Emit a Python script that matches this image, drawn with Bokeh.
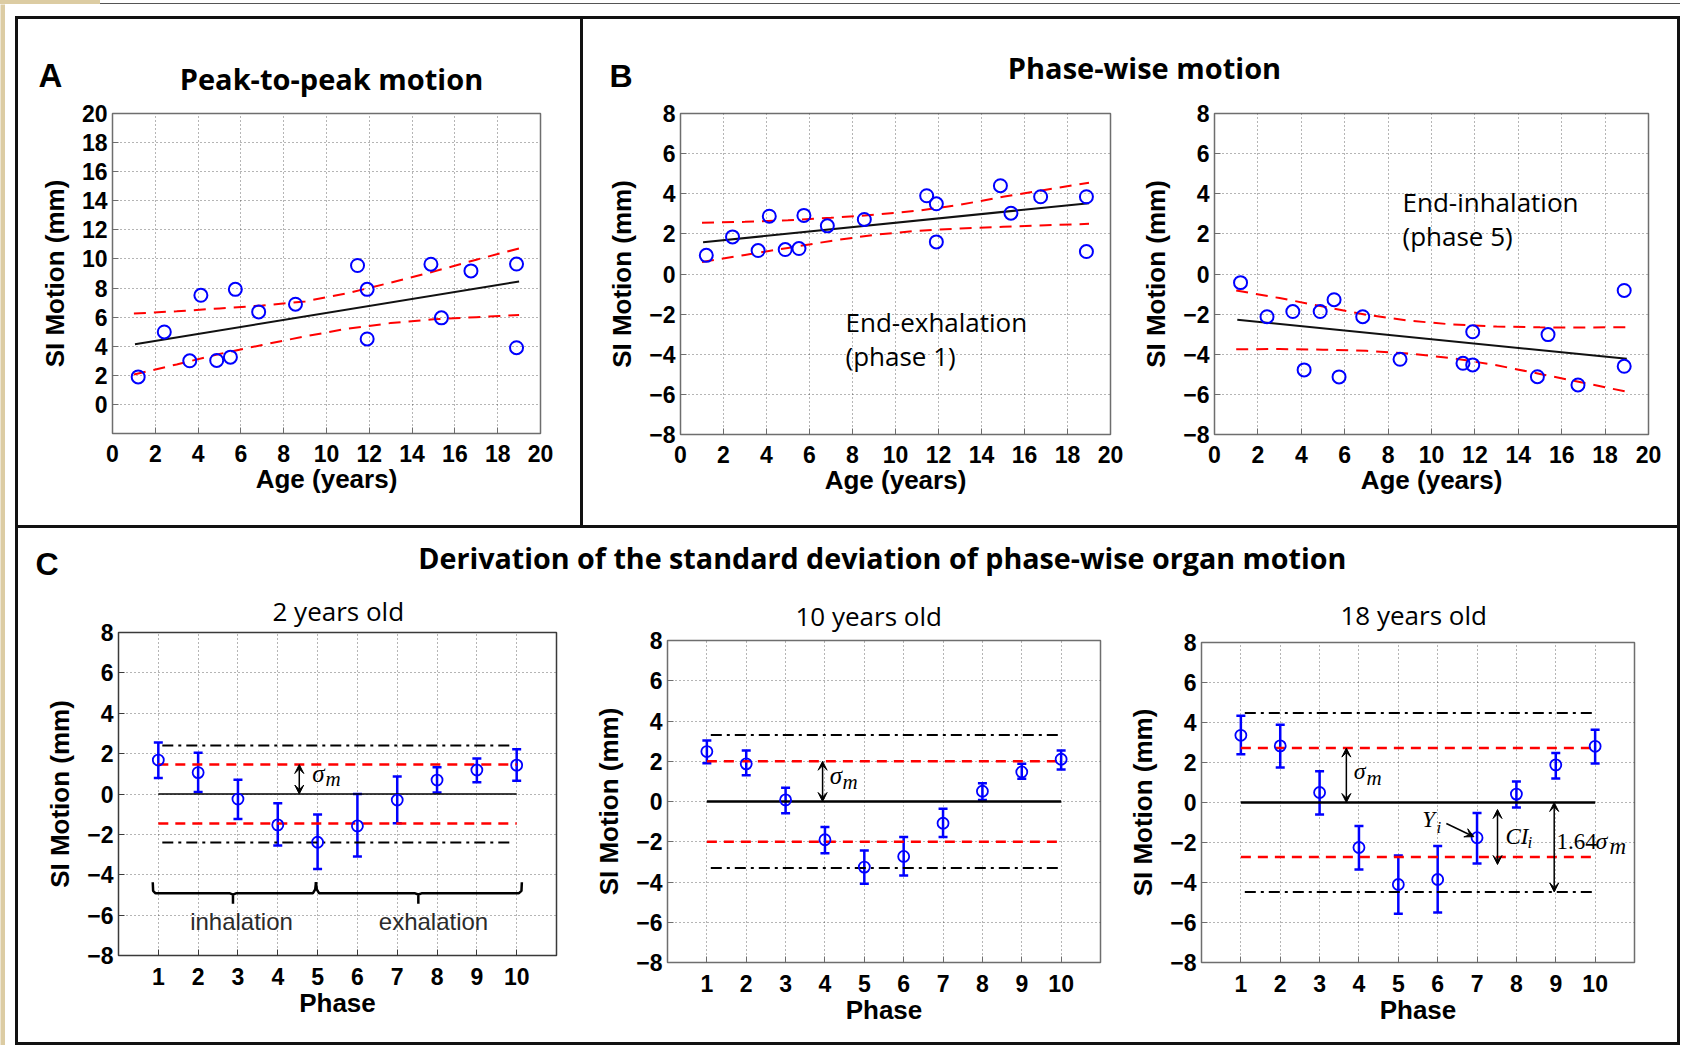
from bokeh.plotting import figure
from bokeh.layouts import row, column
from bokeh.models import (Range1d, FixedTicker, Label, Arrow, VeeHead, Whisker, TeeHead,
                          ColumnDataSource, Spacer, Title)
from bokeh.embed import file_html
from bokeh.resources import INLINE

# ------------------------------------------------------------------ data
age_ticks = [0, 2, 4, 6, 8, 10, 12, 14, 16, 18, 20]
age_tick_labels = ["0", "2", "4", "6", "8", "10", "12", "14", "16", "18", "20"]
p2p_ticks = [0, 2, 4, 6, 8, 10, 12, 14, 16, 18, 20]
p2p_tick_labels = ["0", "2", "4", "6", "8", "10", "12", "14", "16", "18", "20"]
si_ticks = [-8, -6, -4, -2, 0, 2, 4, 6, 8]
si_tick_labels = ["\u22128", "\u22126", "\u22124", "\u22122", "0", "2", "4", "6", "8"]
phase_ticks = [1, 2, 3, 4, 5, 6, 7, 8, 9, 10]
phase_tick_labels = ["1", "2", "3", "4", "5", "6", "7", "8", "9", "10"]

ages = [1.2, 2.42, 3.61, 4.13, 4.87, 5.51, 5.74, 6.83, 8.55, 11.45, 11.9, 11.9,
        14.88, 15.37, 16.75, 18.88, 18.88]
p2p_motion = [1.89, 4.98, 3.0, 7.5, 3.02, 3.25, 7.91, 6.36, 6.89, 9.55, 7.91, 4.5,
              9.64, 5.95, 9.18, 9.65, 3.9]
exh_motion = [0.93, 1.85, 1.17, 2.88, 1.22, 1.27, 2.92, 2.4, 2.72, 3.9, 3.5, 1.6,
              4.4, 3.03, 3.85, 3.85, 1.12]
inh_motion = [-0.43, -2.13, -1.87, -4.78, -1.87, -1.28, -5.13, -2.13, -4.25, -4.45, -2.88,
              -4.53, -5.12, -3.02, -5.53, -0.82, -4.6]

fit_age = [1.05, 19.0]
p2p_fit = [4.14, 8.45]
exh_fit = [1.58, 3.53]
inh_fit = [-2.28, -4.23]

band_age = [1, 3, 5, 7, 9, 11, 13, 15, 17, 19]
p2p_upper = [6.25, 6.4, 6.6, 6.8, 7.08, 7.65, 8.37, 9.13, 9.95, 10.72]
p2p_lower = [2.05, 2.75, 3.47, 4.09, 4.68, 5.21, 5.59, 5.85, 6.0, 6.15]
exh_upper = [2.55, 2.6, 2.68, 2.8, 2.95, 3.15, 3.45, 3.85, 4.2, 4.55]
exh_lower = [0.6, 0.95, 1.3, 1.65, 1.95, 2.15, 2.27, 2.35, 2.43, 2.5]
inh_upper = [-0.82, -1.2, -1.62, -2.03, -2.33, -2.52, -2.62, -2.66, -2.67, -2.65]
inh_lower = [-3.75, -3.74, -3.77, -3.83, -3.97, -4.2, -4.55, -4.98, -5.42, -5.87]

phases = [1, 2, 3, 4, 5, 6, 7, 8, 9, 10]
age2_mean = [1.68, 1.06, -0.25, -1.53, -2.39, -1.58, -0.3, 0.69, 1.19, 1.43]
age2_high = [2.55, 2.04, 0.71, -0.46, -1.02, 0.0, 0.87, 1.33, 1.76, 2.22]
age2_low = [0.79, 0.1, -1.24, -2.55, -3.72, -3.1, -1.45, 0.08, 0.58, 0.66]
age10_mean = [2.48, 1.87, 0.08, -1.9, -3.26, -2.73, -1.08, 0.51, 1.47, 2.1]
age10_high = [3.03, 2.53, 0.68, -1.27, -2.43, -1.77, -0.36, 0.91, 1.87, 2.53]
age10_low = [1.9, 1.31, -0.58, -2.57, -4.09, -3.68, -1.77, 0.08, 1.13, 1.59]
age18_mean = [3.36, 2.83, 0.5, -2.25, -4.1, -3.85, -1.76, 0.42, 1.88, 2.81]
age18_high = [4.34, 3.89, 1.56, -1.17, -2.65, -2.18, -0.52, 1.05, 2.48, 3.64]
age18_low = [2.41, 1.75, -0.6, -3.35, -5.56, -5.5, -3.05, -0.25, 1.2, 1.95]

sigma_m = [1.46, 2.0, 2.72]          # 2, 10, 18 years old
limit_164 = [2.4, 3.3, 4.47]         # 1.64 sigma_m
line_span = [1, 10]
limit_span = [1.1, 9.92]
sigma_arrow_phase = [4.54, 3.94, 3.68]
ci_arrow = [7.52, -0.35, -3.1]       # phase, top, bottom
band_arrow_phase = 8.96
yi_arrow = [6.22, -1.05, 6.92, -1.71]

brace_in_x = [0.86, 0.87, 0.93, 2.80, 2.875, 2.875, 2.875, 2.95, 4.88, 4.94, 4.96]
brace_in_y = [-4.37, -4.80, -4.92, -4.92, -4.98, -5.44, -4.98, -4.92, -4.92, -4.72, -4.37]
brace_ex_x = [4.96, 4.98, 5.04, 7.45, 7.53, 7.53, 7.53, 7.61, 10.05, 10.12, 10.13]
brace_ex_y = [-4.37, -4.72, -4.92, -4.92, -4.98, -5.44, -4.98, -4.92, -4.92, -4.80, -4.37]

# ------------------------------------------------------------------ styling
SANS = "Liberation Sans"
CAL = "Open Sans"
SERIF = "Liberation Serif"
BLUE = "#0000ff"
RED = "#ff0000"
FRAME = "#6e6e6e"
BEIGE = "#dccca3"
SHIFT = {CAL: 0.39, SANS: 0.35, SERIF: 0.34}   # baseline correction (em)

FRAMES = {}


def make_plot(w, h, L, R, T, B, xr, yr, xt, xtl, yt, ytl, xlabel, ylabel, xstand, xlstand,
              title=None, frame_color=FRAME):
    p = figure(width=w, height=h, x_range=Range1d(*xr), y_range=Range1d(*yr), title=title,
               toolbar_location=None, output_backend="svg", frame_align=False,
               min_border_left=L, min_border_right=R, min_border_top=T, min_border_bottom=B,
               background_fill_color="white", border_fill_color="white",
               outline_line_color=frame_color, outline_line_width=1.5)
    for ax, ticks, labels in ((p.xaxis, xt, xtl), (p.yaxis, yt, ytl)):
        ax.ticker = FixedTicker(ticks=ticks)
        ax.major_label_overrides = {t: l for t, l in zip(ticks, labels)}
        ax.major_label_text_font = SANS
        ax.major_label_text_font_style = "bold"
        ax.major_label_text_font_size = "23px"
        ax.major_label_text_color = "black"
        ax.axis_label_text_font = SANS
        ax.axis_label_text_font_style = "bold"
        ax.axis_label_text_font_size = "26px"
        ax.axis_label_text_color = "black"
        ax.axis_line_color = None
        ax.major_tick_in = 6
        ax.major_tick_out = 0
        ax.major_tick_line_color = frame_color
        ax.minor_tick_line_color = None
    p.xaxis.axis_label = xlabel
    p.yaxis.axis_label = ylabel
    p.xaxis.major_label_standoff = xstand
    p.xaxis.axis_label_standoff = xlstand
    p.yaxis.major_label_standoff = 5
    p.yaxis.axis_label_standoff = 9
    p.xgrid.ticker = FixedTicker(ticks=xt)
    p.ygrid.ticker = FixedTicker(ticks=yt)
    p.grid.grid_line_color = "#3a3a3a"
    p.grid.grid_line_dash = "1 3"
    p.grid.grid_line_alpha = 0.75
    FRAMES[p.id] = (L, T, w - R, h - B, xr, yr)
    return p


def _label(x, y, text, font, size, style, align, color):
    return Label(x=x, y=y, text=text, text_font=font, text_font_size=f"{size}px",
                 text_font_style=style, text_align=align, text_baseline="alphabetic",
                 text_color=color)


def put(p, origin, rx, ry, text, font, size, style="normal", align="left", color="black"):
    """Place a text label at a reference-pixel position (left/center, baseline)."""
    ry = ry - SHIFT[font] * size
    ox, oy = origin
    L, T, Rr, Bb, xr, yr = FRAMES[p.id]
    fx0, fy0, fx1, fy1 = ox + L, oy + T, ox + Rr, oy + Bb
    dx = xr[0] + (rx - fx0) / (fx1 - fx0) * (xr[1] - xr[0])
    dy = yr[1] - (ry - fy0) / (fy1 - fy0) * (yr[1] - yr[0])
    p.add_layout(_label(dx, dy, text, font, size, style, align, color))


def text_canvas(w, h):
    return figure(width=w, height=h, x_range=Range1d(0, w), y_range=Range1d(h, 0), title=None,
                  x_axis_type=None, y_axis_type=None, toolbar_location=None, frame_align=False,
                  output_backend="svg", min_border=0, outline_line_color=None,
                  background_fill_color="white", border_fill_color="white")


def tput(p, origin, rx, ry, text, font, size, style="normal", align="left"):
    ox, oy = origin
    ry = ry - SHIFT[font] * size
    p.add_layout(_label(rx - ox, ry - oy, text, font, size, style, align, "black"))


def bar(w, h, color):
    return figure(width=w, height=h, x_axis_type=None, y_axis_type=None, title=None,
                  toolbar_location=None, output_backend="svg", min_border=0, frame_align=False,
                  outline_line_color=None, background_fill_color=color,
                  border_fill_color=color)


def rule(w, h, color="#111111"):
    return Spacer(width=w, height=h, styles={"background-color": color})


def regression(p, y, fit, up, lo):
    p.line(band_age, up, line_color=RED, line_width=2, line_dash="12 8")
    p.line(band_age, lo, line_color=RED, line_width=2, line_dash="12 8")
    p.line(fit_age, fit, line_color="#111111", line_width=2)
    p.scatter(ages, y, marker="circle", size=13, fill_color=None, line_color=BLUE, line_width=2)


# ------------------------------------------------------------------ panel A
oTA = (18, 19)
tA = text_canvas(562, 80)
tput(tA, oTA, 38, 87, "A", SANS, 33, "bold")
tput(tA, oTA, 331, 89, "Peak-to-peak motion", CAL, 29, "bold", "center")

pA = make_plot(562, 426, 94, 40, 14, 92, (0, 20), (-2, 20), age_ticks, age_tick_labels,
               p2p_ticks, p2p_tick_labels, "Age (years)", "SI Motion (mm)", 11, -1)
regression(pA, p2p_motion, p2p_fit, p2p_upper, p2p_lower)

# ------------------------------------------------------------------ panel B
oTB = (583, 19)
tB = text_canvas(1094, 75)
tput(tB, oTB, 609, 87, "B", SANS, 32, "bold")
tput(tB, oTB, 1144, 78, "Phase-wise motion", CAL, 29, "bold", "center")

oB1 = (583, 94)
pB1 = make_plot(552, 431, 97, 25, 19, 91, (0, 20), (-8, 8), age_ticks, age_tick_labels,
                si_ticks, si_tick_labels, "Age (years)", "SI Motion (mm)", 11, -1)
regression(pB1, exh_motion, exh_fit, exh_upper, exh_lower)
put(pB1, oB1, 845, 332, "End-exhalation", CAL, 26)
put(pB1, oB1, 845, 366, "(phase 1)", CAL, 26)

oB2 = (1135, 94)
pB2 = make_plot(542, 431, 79, 29, 19, 91, (0, 20), (-8, 8), age_ticks, age_tick_labels,
                si_ticks, si_tick_labels, "Age (years)", "SI Motion (mm)", 11, -1)
regression(pB2, inh_motion, inh_fit, inh_upper, inh_lower)
put(pB2, oB2, 1402, 212, "End-inhalation", CAL, 26)
put(pB2, oB2, 1402, 246, "(phase 5)", CAL, 26)

# ------------------------------------------------------------------ panel C
oTC = (18, 528)
tC = text_canvas(1659, 57)
tput(tC, oTC, 35, 574.7, "C", SANS, 32, "bold")
tput(tC, oTC, 885.5, 568, "Derivation of  the standard deviation of phase-wise organ motion",
     CAL, 28.7, "bold", "center")


def phase_plot(w, L, R, T, B, xmax, mean, hi, lo, k, zero_w, title, t_off, t_stand,
               frame_color=FRAME):
    ttl = Title(text=title, text_font=CAL, text_font_size="26px", text_font_style="normal",
                text_color="black", align="left", offset=t_off, standoff=t_stand)
    p = make_plot(w, 457, L, R, T, B, (0, xmax), (-8, 8), phase_ticks, phase_tick_labels,
                  si_ticks, si_tick_labels, "Phase", "SI Motion (mm)", 12, 0, ttl, frame_color)
    s = sigma_m[k]
    lim = limit_164[k]
    p.line(line_span, [0, 0], line_color="black", line_width=zero_w)
    for v in (s, -s):
        p.line(line_span, [v, v], line_color=RED, line_width=2.5, line_dash="10 7")
    for v in (lim, -lim):
        p.line(limit_span, [v, v], line_color="black", line_width=2, line_dash="11 5 3 5")
    src = ColumnDataSource(dict(x=phases, y=mean, hi=hi, lo=lo))
    p.add_layout(Whisker(source=src, base="x", upper="hi", lower="lo", dimension="height",
                         line_color=BLUE, line_width=2.5,
                         upper_head=TeeHead(size=9, line_color=BLUE, line_width=2.5),
                         lower_head=TeeHead(size=9, line_color=BLUE, line_width=2.5)))
    p.scatter("x", "y", source=src, marker="circle", size=11, fill_color=None,
              line_color=BLUE, line_width=1.8)
    ax = sigma_arrow_phase[k]
    p.add_layout(Arrow(start=VeeHead(size=9, fill_color="black", line_color="black"),
                       end=VeeHead(size=9, fill_color="black", line_color="black"),
                       x_start=ax, y_start=0, x_end=ax, y_end=s,
                       line_color="black", line_width=1.5))
    return p


oC1 = (18, 585)
pC1 = phase_plot(557, 100, 19, 47, 87, 11, age2_mean, age2_high, age2_low, 0, 1.5,
                 "2 years old", 154, 7, "#3a3a3a")
pC1.line(brace_in_x, brace_in_y, line_color="black", line_width=2.5)
pC1.line(brace_ex_x, brace_ex_y, line_color="black", line_width=2.5)
put(pC1, oC1, 241, 929, "inhalation", SANS, 24, "normal", "center", "#2b2b2b")
put(pC1, oC1, 433, 929, "exhalation", SANS, 24, "normal", "center", "#2b2b2b")
put(pC1, oC1, 311.7, 781, "\u03c3", SERIF, 25, "italic")
put(pC1, oC1, 325, 786, "m", SERIF, 21, "italic")

oC2 = (575, 585)
pC2 = phase_plot(550, 92, 25, 55, 80, 11, age10_mean, age10_high, age10_low, 1, 2.5,
                 "10 years old", 128, 13)
put(pC2, oC2, 829.3, 783.7, "\u03c3", SERIF, 25, "italic")
put(pC2, oC2, 842, 789, "m", SERIF, 21, "italic")

oC3 = (1125, 585)
pC3 = phase_plot(552, 76, 43, 56, 80, 11, age18_mean, age18_high, age18_low, 2, 2.5,
                 "18 years old", 139, 19)
put(pC3, oC3, 1353.3, 778, "\u03c3", SERIF, 24, "italic")
put(pC3, oC3, 1366, 784, "m", SERIF, 21, "italic")
put(pC3, oC3, 1421.7, 826, "Y", SERIF, 23, "italic")
put(pC3, oC3, 1436, 832, "i", SERIF, 17, "italic")
put(pC3, oC3, 1505, 843, "CI", SERIF, 23, "italic")
put(pC3, oC3, 1527, 847, "i", SERIF, 17, "italic")
put(pC3, oC3, 1556, 848, "1.64", SERIF, 23)
put(pC3, oC3, 1595, 848, "\u03c3", SERIF, 24, "italic")
put(pC3, oC3, 1609, 853, "m", SERIF, 23, "italic")
pC3.add_layout(Arrow(start=VeeHead(size=9, fill_color="black", line_color="black"),
                     end=VeeHead(size=9, fill_color="black", line_color="black"),
                     x_start=ci_arrow[0], y_start=ci_arrow[1], x_end=ci_arrow[0], y_end=ci_arrow[2],
                     line_color="black", line_width=1.5))
pC3.add_layout(Arrow(start=VeeHead(size=9, fill_color="black", line_color="black"),
                     end=VeeHead(size=9, fill_color="black", line_color="black"),
                     x_start=band_arrow_phase, y_start=0, x_end=band_arrow_phase,
                     y_end=-limit_164[2], line_color="black", line_width=1.5))
pC3.add_layout(Arrow(end=VeeHead(size=9, fill_color="black", line_color="black"),
                     x_start=yi_arrow[0], y_start=yi_arrow[1], x_end=yi_arrow[2], y_end=yi_arrow[3],
                     line_color="black", line_width=1.5))

# ------------------------------------------------------------------ layout
top = row(rule(3, 506), column(tA, pA), rule(3, 506),
          column(tB, row(pB1, pB2)), rule(3, 506))
bottom = row(rule(3, 514), column(tC, row(pC1, pC2, pC3)), rule(3, 514))
box = column(rule(1665, 3), top, rule(1665, 3), bottom, rule(1665, 3))
main = column(Spacer(width=1665, height=12), box)
band = row(rule(100, 4, BEIGE), column(Spacer(width=1580, height=3), rule(1580, 1, "#555555")))
layout = column(band, row(bar(5, 1041, BEIGE), Spacer(width=10, height=1041), main))

open("out.html", "w").write(file_html(layout, INLINE))
